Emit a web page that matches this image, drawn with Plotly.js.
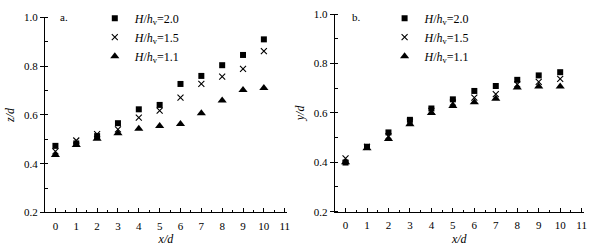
<!DOCTYPE html>
<html>
<head>
<meta charset="utf-8">
<script src="https://cdn.plot.ly/plotly-3.0.1.min.js"></script>
<style>
  html, body { margin: 0; padding: 0; background: #fff; }
  #chart { width: 600px; height: 249px; }
</style>
</head>
<body>
<div id="chart"></div>
<script>
// x/d positions (same for both panels)
const xd = [0, 1, 2, 3, 4, 5, 6, 7, 8, 9, 10];

// panel a: z/d
const zd_20 = [0.473, 0.483, 0.513, 0.566, 0.623, 0.641, 0.727, 0.760, 0.804, 0.846, 0.910];
const zd_15 = [0.450, 0.495, 0.521, 0.541, 0.589, 0.618, 0.671, 0.727, 0.757, 0.789, 0.862];
const zd_11 = [0.436, 0.477, 0.502, 0.525, 0.543, 0.554, 0.563, 0.607, 0.659, 0.702, 0.710];

// panel b: y/d
const yd_20 = [0.399, 0.463, 0.521, 0.572, 0.618, 0.655, 0.689, 0.709, 0.734, 0.752, 0.765];
const yd_15 = [0.416, 0.462, 0.505, 0.565, 0.608, 0.642, 0.662, 0.676, 0.716, 0.726, 0.738];
const yd_11 = [0.400, 0.457, 0.494, 0.554, 0.600, 0.628, 0.643, 0.657, 0.703, 0.707, 0.707];

const seriesNames = ['<i>H</i>/<i>h</i><sub>v</sub>=2.0', '<i>H</i>/<i>h</i><sub>v</sub>=1.5', '<i>H</i>/<i>h</i><sub>v</sub>=1.1'];
const panelLabels = ['a.', 'b.'];
const yTitles = ['<i>z/d</i>', '<i>y/d</i>'];
const xTitle = '<i>x/d</i>';

const serif = '"Liberation Serif", "Times New Roman", serif';

// marker styles for the three ratios
const markerStyles = [
    { symbol: 'square', size: 6, color: '#000' },
    { symbol: 'x-thin-open', size: 6, color: '#000', line: { width: 1.1, color: '#000' } },
    { symbol: 'triangle-up', size: 8, color: '#000' }
];

function makeTraces(yLists, xaxis, yaxis, legend) {
    return yLists.map((ys, i) => ({
        x: xd,
        y: ys,
        type: 'scatter',
        mode: 'markers',
        name: seriesNames[i],
        xaxis: xaxis,
        yaxis: yaxis,
        legend: legend,
        marker: markerStyles[i],
        cliponaxis: false
    }));
}

const traces = [].concat(
    makeTraces([zd_20, zd_15, zd_11], 'x', 'y', 'legend'),
    makeTraces([yd_20, yd_15, yd_11], 'x2', 'y2', 'legend2')
);

function xAxis(domain, anchor) {
    return {
        domain: domain,
        anchor: anchor,
        range: [-0.5, 11.1],
        tickmode: 'linear',
        tick0: 0,
        dtick: 1,
        ticks: 'inside',
        ticklen: 4,
        tickwidth: 1,
        tickcolor: '#000',
        minor: { ticks: 'inside', ticklen: 2, dtick: 0.5, tick0: 0, tickcolor: '#000' },
        showline: true,
        linecolor: '#000',
        linewidth: 1,
        showgrid: false,
        zeroline: false,
        ticklabelstandoff: 3,
        title: { text: xTitle, standoff: 4, font: { family: serif, size: 12, color: '#000' } }
    };
}

function yAxis(domain, anchor, title) {
    return {
        domain: domain,
        anchor: anchor,
        range: [0.2, 1.0],
        tickmode: 'linear',
        tick0: 0.2,
        dtick: 0.2,
        tickformat: '.1f',
        ticks: 'outside',
        ticklen: 4,
        tickwidth: 1,
        tickcolor: '#000',
        minor: { ticks: 'inside', ticklen: 3, dtick: 0.1, tick0: 0.2, tickcolor: '#000' },
        showline: true,
        linecolor: '#000',
        linewidth: 1,
        showgrid: false,
        zeroline: false,
        title: { text: title, standoff: 6, font: { family: serif, size: 12, color: '#000' } }
    };
}

function legendBox(x, y) {
    return {
        x: x,
        y: y,
        xanchor: 'left',
        yanchor: 'top',
        bgcolor: 'rgba(0,0,0,0)',
        borderwidth: 0,
        itemwidth: 30,
        tracegroupgap: 0,
        font: { family: serif, size: 12, color: '#000' }
    };
}

const layout = {
    width: 600,
    height: 249,
    margin: { l: 0, r: 0, t: 0, b: 0 },
    paper_bgcolor: '#fff',
    plot_bgcolor: '#fff',
    font: { family: serif, size: 11, color: '#000' },
    showlegend: true,
    xaxis: xAxis([0.075, 0.478], 'y'),
    yaxis: yAxis([0.147, 0.930], 'x', yTitles[0]),
    xaxis2: xAxis([0.558, 0.973], 'y2'),
    yaxis2: yAxis([0.150, 0.943], 'x2', yTitles[1]),
    legend: legendBox(0.158, 0.985),
    legend2: legendBox(0.641, 0.985),
    annotations: [
        { text: panelLabels[0], xref: 'paper', yref: 'paper', x: 0.097, y: 0.93, xanchor: 'left', yanchor: 'middle', showarrow: false, font: { family: serif, size: 11, color: '#000' } },
        { text: panelLabels[1], xref: 'paper', yref: 'paper', x: 0.583, y: 0.93, xanchor: 'left', yanchor: 'middle', showarrow: false, font: { family: serif, size: 11, color: '#000' } }
    ]
};

Plotly.newPlot('chart', traces, layout, { displayModeBar: false, staticPlot: true });
</script>
</body>
</html>
